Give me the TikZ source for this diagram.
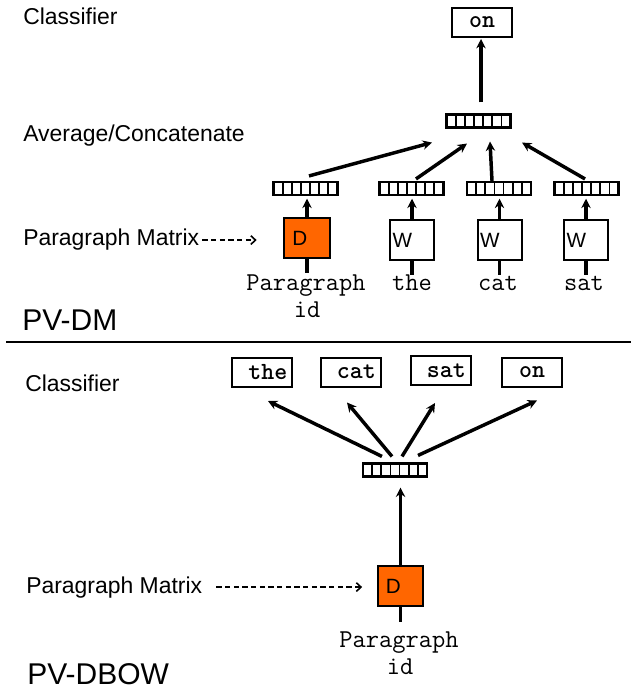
\documentclass[tikz,border=0pt]{standalone}
\usepackage{fontspec}
\setmainfont{Liberation Sans}
\usetikzlibrary{arrows.meta,calc}
\definecolor{dorange}{RGB}{255,102,0}
\begin{document}
\begin{tikzpicture}[x=0.75pt,y=-0.75pt,
  lbl/.style={inner sep=0pt,anchor=base west,font=\fontsize{17.2}{20}\selectfont},
  big/.style={inner sep=0pt,anchor=base west,font=\fontsize{22.5}{26}\selectfont},
  ttl/.style={inner sep=0pt,anchor=base,font=\ttfamily\fontsize{19.3}{21}\selectfont},
  vec/.style={draw,line width=1.6pt,minimum width=48pt,minimum height=9.75pt,inner sep=0pt,fill=white,
    path picture={\foreach \i in {1,...,6}{\draw[line width=1.3pt] ([xshift=\i*48pt/7]path picture bounding box.north west) -- ([xshift=\i*48pt/7]path picture bounding box.south west);}}},
  dbox/.style={draw,line width=1.5pt,fill=dorange,inner xsep=6pt,inner ysep=0pt,text width=22pt,align=left,minimum height=29.5pt,font=\fontsize{15.5}{17}\selectfont},
  wbox/.style={draw,line width=1.5pt,fill=white,inner xsep=2pt,inner ysep=0pt,text width=29pt,align=left,minimum height=30pt,font=\fontsize{15.5}{17}\selectfont},
  cbox/.style={draw,line width=1.5pt,fill=white,inner xsep=3.5pt,inner ysep=0pt,text width=38pt,align=right,minimum height=21.75pt,font=\ttfamily\bfseries\fontsize{18.5}{20}\selectfont},
  arr/.style={line width=2.6pt,-{Stealth[length=7pt,width=7pt]}},
  stub/.style={line width=2.6pt},
  dasharr/.style={line width=1.2pt,dash pattern=on 4pt off 2.5pt,-{Straight Barb[length=3.5pt,width=6.5pt]}}
]
\fill[white] (0,0) rectangle (631,691);
\useasboundingbox (0,0) rectangle (631,691);

% ---------- PV-DM ----------
\node[lbl] (cls1) at (23,25) {Classifier};
\node[lbl] (avglbl) at (23,142) {Average/Concatenate};
\node[lbl] (pm1) at (23,246) {Paragraph Matrix};
\node[big] (pvdm) at (22,330) {PV-DM};

\node[cbox,align=center] (ontop) at (482,22.5) {on};
\node[vec] (avg) at (478.5,121) {};
\node[vec] (v1) at (305.5,188.5) {};
\node[vec] (v2) at (411.5,188.5) {};
\node[vec] (v3) at (499,188.5) {};
\node[vec] (v4) at (586.5,188.5) {};

\node[dbox] (d1) at (307,238) {D};
\node[wbox] (w1) at (412,240) {W};
\node[wbox] (w2) at (499.5,240) {W};
\node[wbox] (w3) at (586,240) {W};

\node[ttl] (pid1a) at (306,291) {Paragraph};
\node[ttl] (pid1b) at (307,317) {id};
\node[ttl] (the1) at (412,291) {the};
\node[ttl] (cat1) at (498,291) {cat};
\node[ttl] (sat1) at (584,291) {sat};

\draw[arr] ($(avg.north)+(2.5,-11)$) -- ($(ontop.south)+(-1,1)$);
\draw[arr] ($(v1.north)+(3.5,-5)$) -- ($(avg.south)+(-46.5,14)$);
\draw[arr] ($(v2.north)+(4.5,-2)$) -- ($(avg.south)+(-11.5,15)$);
\draw[arr] ($(v3.north)+(-7,0)$) -- ($(avg.south)+(11.5,13)$);
\draw[arr] ($(v4.north)+(-1.5,-2)$) -- ($(avg.south)+(43.5,14)$);

\draw[arr,shorten >=2pt] (d1.north) -- (d1.north |- v1.south);
\draw[arr,shorten >=2pt] (w1.north) -- (w1.north |- v2.south);
\draw[arr,shorten >=2pt] (w2.north) -- (w2.north |- v3.south);
\draw[arr,shorten >=2pt] (w3.north) -- (w3.north |- v4.south);

\draw[stub] (d1.south) -- ++(0,14);
\draw[stub] (w1.south) -- ++(0,14);
\draw[stub] (w2.south) -- ++(0,14);
\draw[stub] (w3.south) -- ++(0,14);

\draw[dasharr,shorten >=20pt] ($(pm1.east)+(3,0)$) -- (pm1.east -| d1.west);

% separator
\draw[line width=2pt] (6,342) -- (631,342);

% ---------- PV-DBOW ----------
\node[lbl] (cls2) at (25,391) {Classifier};
\node[lbl] (pm2) at (26,593) {Paragraph Matrix};
\node[big] (pvdbow) at (27,684) {PV-DBOW};

\node[cbox] (bthe) at (262,372.5) {the};
\node[cbox] (bcat) at (350.5,372) {cat};
\node[cbox] (bsat) at (440.5,370.5) {sat};
\node[cbox,align=center] (bon) at (532,372) {on};

\node[vec] (vb) at (395,470) {};
\node[dbox] (db) at (400.5,586) {D};

\node[ttl] (pid2a) at (399,647) {Paragraph};
\node[ttl] (pid2b) at (400,674) {id};

\draw[arr,shorten >=7.5pt] (db.north) -- (db.north |- vb.south);
\draw[stub] (db.south) -- ++(0,15);

\draw[arr] ($(vb.north)+(-13,-6)$) -- ($(bthe.south)+(6,13)$);
\draw[arr] ($(vb.north)+(-3,-6)$) -- ($(bcat.south)+(-3.5,15)$);
\draw[arr] ($(vb.north)+(7,-6)$) -- ($(bsat.south)+(-5.5,17)$);
\draw[arr] ($(vb.north)+(23,-7)$) -- ($(bon.south)+(5,13)$);

\draw[dasharr,shorten >=11pt] ($(pm2.east)+(14,0)$) -- (pm2.east -| db.west);
\end{tikzpicture}
\end{document}
